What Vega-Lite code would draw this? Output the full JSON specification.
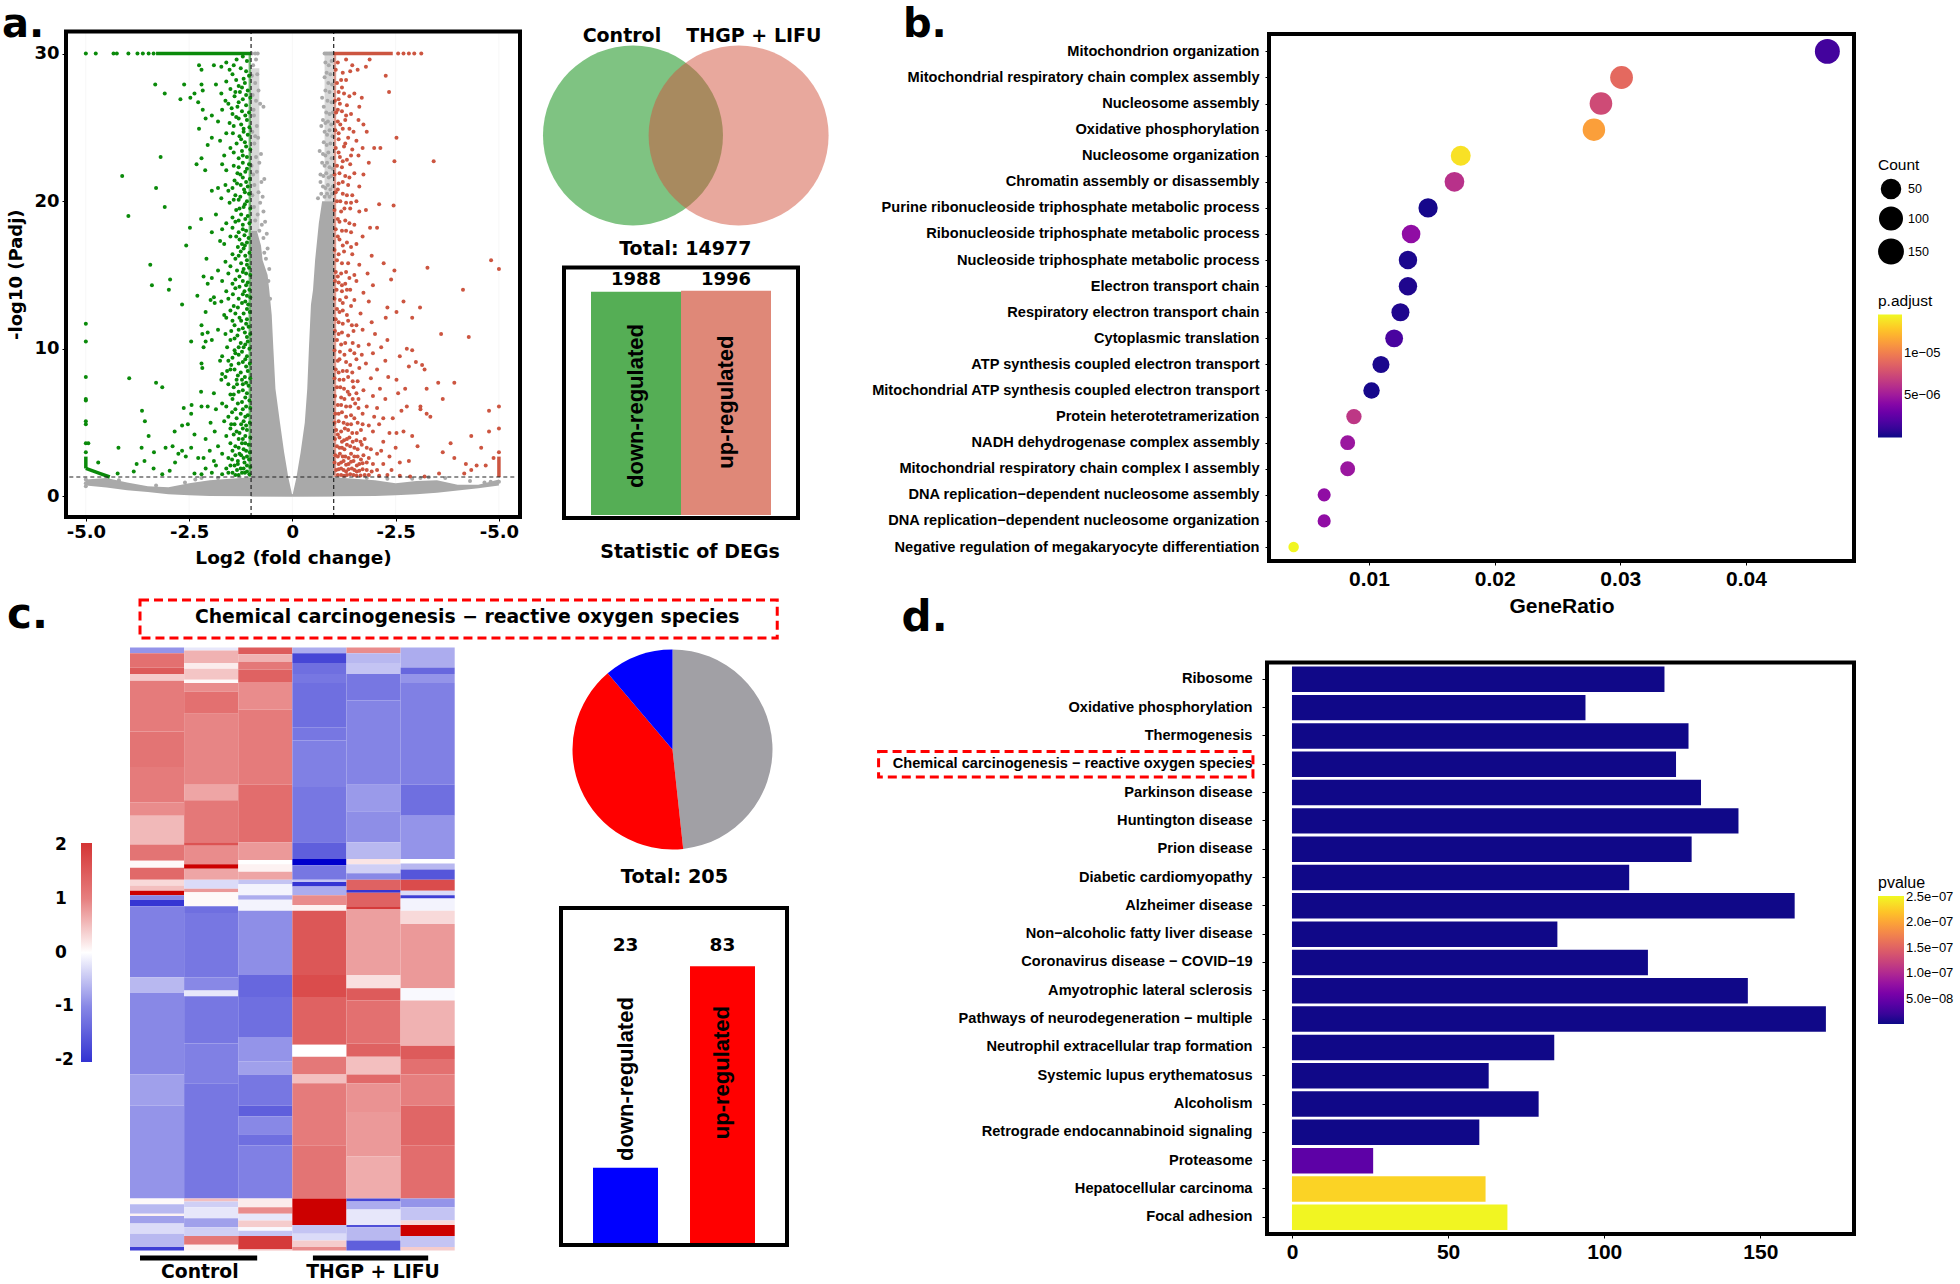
{"$schema":"https://vega.github.io/schema/vega-lite/v6.json","width":1960,"height":1284,"padding":0,"autosize":{"type":"none"},"background":"white","config":{"view":{"stroke":null},"axis":{"grid":false,"domain":false,"tickColor":"black","labelColor":"black","titleColor":"black"}},
"datasets":{"unit":[{"a":0,"b":1}],
"ns_rules":[{"x":-5,"y":-1.39,"y2":31.5},{"x":-2.5,"y":-1.39,"y2":31.5},{"x":0,"y":-1.39,"y2":31.5},{"x":2.5,"y":-1.39,"y2":31.5},{"x":5,"y":-1.39,"y2":31.5}],
"wingL":[{"y":0,"x":-1,"x2":0},{"y":0.3,"x":-1,"x2":-0.02},{"y":1.3,"x":-1,"x2":-0.1},{"y":2,"x":-1,"x2":-0.14},{"y":3,"x":-1,"x2":-0.2},{"y":5,"x":-1,"x2":-0.3},{"y":7.3,"x":-1,"x2":-0.41},{"y":10,"x":-1,"x2":-0.46},{"y":12.3,"x":-1,"x2":-0.5},{"y":14,"x":-1,"x2":-0.56},{"y":15,"x":-1,"x2":-0.6},{"y":16,"x":-1,"x2":-0.72},{"y":17,"x":-1,"x2":-0.76},{"y":18,"x":-1,"x2":-0.86}],
"wingR":[{"y":0,"x":0,"x2":1},{"y":0.3,"x":0.02,"x2":1},{"y":1.3,"x":0.1,"x2":1},{"y":2,"x":0.14,"x2":1},{"y":3,"x":0.2,"x2":1},{"y":5,"x":0.3,"x2":1},{"y":7.3,"x":0.36,"x2":1},{"y":10,"x":0.4,"x2":1},{"y":13,"x":0.45,"x2":1},{"y":14,"x":0.5,"x2":1},{"y":16,"x":0.55,"x2":1},{"y":18.5,"x":0.64,"x2":1},{"y":20,"x":0.72,"x2":1}],
"floor":[{"x":-5,"y":0.75,"y2":1.15},{"x":-4.5,"y":0.6,"y2":1.25},{"x":-4,"y":0.42,"y2":0.95},{"x":-3.5,"y":0.3,"y2":0.7},{"x":-3,"y":0.15,"y2":0.62},{"x":-2.5,"y":0.08,"y2":0.9},{"x":-2,"y":0.04,"y2":1.1},{"x":-1,"y":0.01,"y2":1.3},{"x":0,"y":0,"y2":0.15},{"x":1,"y":0.01,"y2":1.3},{"x":2,"y":0.04,"y2":1.1},{"x":2.5,"y":0.08,"y2":0.9},{"x":3,"y":0.15,"y2":1.05},{"x":3.5,"y":0.25,"y2":1.1},{"x":4,"y":0.4,"y2":0.8},{"x":4.5,"y":0.55,"y2":0.8},{"x":5,"y":0.75,"y2":1.15}],
"ns":[{"x":-0.98,"y":30},{"x":-0.9,"y":30},{"x":-0.84,"y":30},{"x":-0.95,"y":29.2},{"x":-0.85,"y":28.6},{"x":-0.9,"y":28},{"x":-0.82,"y":27.5},{"x":-0.96,"y":27.2},{"x":-0.78,"y":26.6},{"x":-0.88,"y":26.8},{"x":-0.7,"y":26.4},{"x":-0.93,"y":25.8},{"x":-0.86,"y":25.1},{"x":-0.97,"y":24.7},{"x":-0.83,"y":24.3},{"x":-0.92,"y":23.9},{"x":-0.76,"y":23.2},{"x":-0.88,"y":23},{"x":-0.99,"y":22.4},{"x":-0.8,"y":22.6},{"x":-0.86,"y":22},{"x":-0.68,"y":21.5},{"x":-0.75,"y":21.3},{"x":-0.92,"y":21.1},{"x":-0.82,"y":20.6},{"x":-0.72,"y":20.3},{"x":-0.78,"y":19.9},{"x":-0.7,"y":19.3},{"x":-0.84,"y":19.1},{"x":-0.66,"y":18.6},{"x":-0.74,"y":18.4},{"x":-0.62,"y":17.8},{"x":-0.7,"y":17.5},{"x":-0.6,"y":16.8},{"x":-0.64,"y":16.1},{"x":-0.56,"y":15.4},{"x":-0.93,"y":19.6},{"x":-0.97,"y":20.4},{"x":-0.9,"y":18.7},{"x":-0.8,"y":18},{"x":-0.95,"y":21.8},{"x":-0.9,"y":24.4},{"x":-0.94,"y":26.2},{"x":-0.88,"y":29.6},{"x":-0.98,"y":28.5},{"x":-0.92,"y":17.6},{"x":-0.68,"y":16.5},{"x":-0.58,"y":14.6},{"x":-0.54,"y":13.4},{"x":-5,"y":0.9},{"x":-5,"y":0.7},{"x":-5,"y":1.15},{"x":0.78,"y":30},{"x":0.82,"y":30},{"x":0.86,"y":30},{"x":0.9,"y":30},{"x":0.94,"y":30},{"x":0.97,"y":30},{"x":0.8,"y":29.4},{"x":0.88,"y":29.2},{"x":0.95,"y":29.5},{"x":0.83,"y":28.7},{"x":0.92,"y":28.6},{"x":0.78,"y":28.4},{"x":0.87,"y":28},{"x":0.96,"y":27.9},{"x":0.8,"y":27.5},{"x":0.9,"y":27.4},{"x":0.72,"y":27},{"x":0.85,"y":26.8},{"x":0.95,"y":26.7},{"x":0.76,"y":26.4},{"x":0.82,"y":26},{"x":0.9,"y":25.9},{"x":0.98,"y":26},{"x":0.74,"y":25.5},{"x":0.8,"y":25.3},{"x":0.86,"y":25.4},{"x":0.94,"y":25.2},{"x":0.7,"y":25.1},{"x":0.78,"y":24.7},{"x":0.84,"y":24.5},{"x":0.9,"y":24.8},{"x":0.97,"y":24.4},{"x":0.76,"y":24},{"x":0.83,"y":23.8},{"x":0.92,"y":23.9},{"x":0.66,"y":23.4},{"x":0.74,"y":23.2},{"x":0.8,"y":23.1},{"x":0.87,"y":23.3},{"x":0.95,"y":22.9},{"x":0.72,"y":22.6},{"x":0.78,"y":22.4},{"x":0.84,"y":22.6},{"x":0.9,"y":22.3},{"x":0.97,"y":22.2},{"x":0.68,"y":21.8},{"x":0.75,"y":21.7},{"x":0.82,"y":21.9},{"x":0.88,"y":21.6},{"x":0.94,"y":21.7},{"x":0.68,"y":21.3},{"x":0.74,"y":21},{"x":0.8,"y":20.9},{"x":0.86,"y":21.1},{"x":0.92,"y":20.8},{"x":0.98,"y":21},{"x":0.62,"y":20.2},{"x":0.7,"y":20.5},{"x":0.78,"y":20.3},{"x":0.84,"y":20.5},{"x":0.9,"y":20.3},{"x":0.96,"y":20.5},{"x":5,"y":1.0},{"x":4.8,"y":1.0},{"x":4.3,"y":1.05},{"x":3.7,"y":1.25},{"x":3.3,"y":1.3},{"x":-2.2,"y":1.25},{"x":-2.6,"y":0.95},{"x":-3.3,"y":0.75},{"x":-4.2,"y":1.1},{"x":-2.35,"y":1.15},{"x":-1.8,"y":1.25},{"x":2.3,"y":1.2},{"x":2.9,"y":1.2},{"x":3.1,"y":1.25},{"x":1.8,"y":1.25},{"x":4.65,"y":0.95}],
"downLines":[{"x":-3.3,"y":30,"k":"top"},{"x":-1,"y":30,"k":"top"},{"x":-5,"y":1.9,"k":"curve"},{"x":-4.85,"y":1.75,"k":"curve"},{"x":-4.65,"y":1.55,"k":"curve"},{"x":-4.42,"y":1.32,"k":"curve"},{"x":-5,"y":1.9,"k":"side"},{"x":-5,"y":2.7,"k":"side"}],
"upLines":[{"x":1,"y":30,"k":"top"},{"x":2.43,"y":30,"k":"top"},{"x":5,"y":1.32,"k":"side"},{"x":5,"y":2.7,"k":"side"}],
"down":[{"x":-5,"y":30},{"x":-4.76,"y":30},{"x":-4.33,"y":30},{"x":-4.25,"y":30},{"x":-3.97,"y":30},{"x":-3.75,"y":30},{"x":-3.62,"y":30},{"x":-3.48,"y":30},{"x":-3.36,"y":30},{"x":-3.32,"y":27.9},{"x":-3.09,"y":27.3},{"x":-2.62,"y":27.9},{"x":-2.71,"y":26.9},{"x":-2.37,"y":27.3},{"x":-2.47,"y":27},{"x":-2.26,"y":29.2},{"x":-2.2,"y":28.9},{"x":-2.2,"y":27.9},{"x":-2.17,"y":27.5},{"x":-2.28,"y":26.7},{"x":-2.17,"y":26.2},{"x":-2.26,"y":24.9},{"x":-2.1,"y":25.6},{"x":-3.19,"y":23},{"x":-4.12,"y":21.7},{"x":-3.3,"y":20.9},{"x":-3.09,"y":19.6},{"x":-3.97,"y":19},{"x":-2.32,"y":22.5},{"x":-2.2,"y":22.9},{"x":-2.11,"y":22.1},{"x":-2.48,"y":18.2},{"x":-2.21,"y":18.8},{"x":-2.57,"y":17},{"x":-3.44,"y":15.7},{"x":-2.96,"y":14.7},{"x":-3.4,"y":14.3},{"x":-2.99,"y":14},{"x":-2.67,"y":13},{"x":-2.3,"y":13.6},{"x":-5,"y":11.7},{"x":-5,"y":10.5},{"x":-5,"y":8.1},{"x":-5,"y":6.6},{"x":-5,"y":6.5},{"x":-5,"y":5.1},{"x":-5,"y":4.9},{"x":-5,"y":3.6},{"x":-4.94,"y":3.6},{"x":-5,"y":3},{"x":-4.7,"y":2.3},{"x":-3.95,"y":8},{"x":-3.3,"y":7.7},{"x":-3.15,"y":7.4},{"x":-3.64,"y":5.8},{"x":-3.57,"y":5.1},{"x":-3.48,"y":4.1},{"x":-4.21,"y":3.3},{"x":-3.65,"y":3.3},{"x":-3.35,"y":3},{"x":-3.07,"y":3.3},{"x":-2.85,"y":4.4},{"x":-2.9,"y":3.4},{"x":-2.67,"y":4.8},{"x":-2.53,"y":4.9},{"x":-2.63,"y":6},{"x":-2.44,"y":6.2},{"x":-2.21,"y":7.1},{"x":-3.77,"y":2.2},{"x":-3.58,"y":2.4},{"x":-3.84,"y":1.7},{"x":-3.36,"y":1.9},{"x":-3.15,"y":1.5},{"x":-2.84,"y":2.3},{"x":-2.67,"y":3.1},{"x":-2.45,"y":3.3},{"x":-4.23,"y":1.55},{"x":-2.37,"y":4.2},{"x":-2.45,"y":5.6},{"x":-2.76,"y":2.9},{"x":-2.28,"y":2.6},{"x":-2.97,"y":1.75},{"x":-2.58,"y":2.7},{"x":-2.37,"y":1.55},
{"x":-1.1,"y":29.5},{"x":-1.35,"y":29.6},{"x":-1.6,"y":29.4},{"x":-1.25,"y":29.0},{"x":-1.52,"y":28.9},{"x":-1.72,"y":29.1},{"x":-1.9,"y":29.2},{"x":-1.05,"y":28.5},{"x":-1.18,"y":28.3},{"x":-1.45,"y":28.6},{"x":-1.15,"y":28},{"x":-1.3,"y":27.8},{"x":-1.6,"y":28.1},{"x":-1.85,"y":27.9},{"x":-1.08,"y":27.5},{"x":-1.27,"y":27.4},{"x":-1.5,"y":27.6},{"x":-1.72,"y":27.3},{"x":-1.02,"y":27},{"x":-1.2,"y":26.9},{"x":-1.4,"y":27.1},{"x":-1.62,"y":26.8},{"x":-1.12,"y":26.5},{"x":-1.33,"y":26.4},{"x":-1.55,"y":26.6},{"x":-1.05,"y":26},{"x":-1.22,"y":26.1},{"x":-1.45,"y":25.9},{"x":-1.7,"y":26.2},{"x":-1.95,"y":25.8},{"x":-1.1,"y":25.5},{"x":-1.3,"y":25.6},{"x":-1.52,"y":25.3},{"x":-1.8,"y":25.4},{"x":-1.04,"y":25},{"x":-1.18,"y":24.9},{"x":-1.42,"y":25.1},{"x":-1.08,"y":24.5},{"x":-1.28,"y":24.4},{"x":-1.6,"y":24.6},{"x":-1.95,"y":24.3},{"x":-1.15,"y":24},{"x":-1.35,"y":23.9},{"x":-1.75,"y":24.1},{"x":-2.05,"y":23.8},{"x":-1.02,"y":23.5},{"x":-1.22,"y":23.4},{"x":-1.5,"y":23.6},{"x":-1.1,"y":23},{"x":-1.3,"y":22.9},{"x":-1.65,"y":23.1},{"x":-1.05,"y":22.5},{"x":-1.2,"y":22.6},{"x":-1.42,"y":22.4},{"x":-1.7,"y":22.5},{"x":-1.14,"y":22},{"x":-1.33,"y":21.9},{"x":-1.6,"y":22.1},{"x":-1.03,"y":21.5},{"x":-1.2,"y":21.6},{"x":-1.4,"y":21.4},{"x":-1.08,"y":21},{"x":-1.25,"y":21.1},{"x":-1.45,"y":20.9},{"x":-1.62,"y":21.1},{"x":-1.8,"y":20.9},{"x":-1.05,"y":20.5},{"x":-1.15,"y":20.6},{"x":-1.38,"y":20.4},{"x":-1.55,"y":20.7},{"x":-1.95,"y":20.7},{"x":-1.1,"y":20},{"x":-1.3,"y":20.1},{"x":-1.52,"y":19.9},{"x":-1.72,"y":20.2},{"x":-1.02,"y":19.5},{"x":-1.18,"y":19.6},{"x":-1.36,"y":19.4},{"x":-1.08,"y":19},{"x":-1.24,"y":19.1},{"x":-1.45,"y":18.9},{"x":-1.85,"y":19.1},{"x":-1.04,"y":18.5},{"x":-1.2,"y":18.4},{"x":-1.38,"y":18.6},{"x":-1.6,"y":18.5},{"x":-1.12,"y":18},{"x":-1.3,"y":17.9},{"x":-1.7,"y":18.1},{"x":-1.95,"y":17.9},{"x":-1.06,"y":17.5},{"x":-1.28,"y":17.4},{"x":-1.5,"y":17.6},{"x":-1.75,"y":17.3},{"x":-1.15,"y":17},{"x":-1.22,"y":17.1},{"x":-1.32,"y":16.9},{"x":-1.65,"y":17.1},{"x":-1.04,"y":16.5},{"x":-1.25,"y":16.6},{"x":-1.45,"y":16.4},{"x":-1.1,"y":16},{"x":-1.38,"y":16.1},{"x":-1.62,"y":15.9},{"x":-2.08,"y":16.1},{"x":-1.05,"y":15.5},{"x":-1.18,"y":15.4},{"x":-1.5,"y":15.6},{"x":-1.8,"y":15.3},{"x":-1.02,"y":15},{"x":-1.12,"y":15.1},{"x":-1.28,"y":14.9},{"x":-1.55,"y":15.1},{"x":-1.95,"y":14.8},{"x":-2.15,"y":14.9},{"x":-1.08,"y":14.5},{"x":-1.2,"y":14.6},{"x":-1.45,"y":14.4},{"x":-1.7,"y":14.6},{"x":-2.05,"y":14.4},{"x":-1.04,"y":14},{"x":-1.16,"y":13.9},{"x":-1.38,"y":14.1},{"x":-1.6,"y":13.9},{"x":-1.9,"y":13.5},{"x":-1.02,"y":13.5},{"x":-1.1,"y":13.6},{"x":-1.3,"y":13.4},{"x":-1.55,"y":13.4},{"x":-1.98,"y":13.3},{"x":-1.07,"y":13},{"x":-1.22,"y":13.1},{"x":-1.42,"y":12.9},{"x":-1.72,"y":13.2},{"x":-1.88,"y":13.1},{"x":-1.03,"y":12.5},{"x":-1.18,"y":12.4},{"x":-1.5,"y":12.6},{"x":-1.65,"y":12.3},{"x":-2.1,"y":12.5},{"x":-1.1,"y":12},{"x":-1.28,"y":12.1},{"x":-1.45,"y":11.9},{"x":-1.6,"y":12.1},{"x":-2.2,"y":11.6},{"x":-1.06,"y":11.5},{"x":-1.2,"y":11.4},{"x":-1.4,"y":11.6},{"x":-1.8,"y":11.3},{"x":-2.18,"y":11},{"x":-1.02,"y":11},{"x":-1.15,"y":11.1},{"x":-1.33,"y":10.9},{"x":-1.62,"y":11},{"x":-2.05,"y":11.1},{"x":-1.08,"y":10.5},{"x":-1.25,"y":10.4},{"x":-1.5,"y":10.6},{"x":-1.95,"y":10.6},{"x":-2.45,"y":10.5},{"x":-2.1,"y":10.5},{"x":-1.04,"y":10},{"x":-1.18,"y":10.1},{"x":-1.4,"y":9.9},{"x":-1.58,"y":10.1},{"x":-2.15,"y":10.1},{"x":-1.1,"y":9.5},{"x":-1.3,"y":9.6},{"x":-1.45,"y":9.4},{"x":-1.7,"y":9.5},{"x":-1.03,"y":9},{"x":-1.2,"y":9.1},{"x":-1.48,"y":8.9},{"x":-1.75,"y":9.2},{"x":-1.55,"y":9.2},{"x":-2.2,"y":9},{"x":-1.08,"y":8.5},{"x":-1.25,"y":8.4},{"x":-1.4,"y":8.6},{"x":-1.7,"y":8.3},{"x":-1.58,"y":8.5},{"x":-2.18,"y":8.7},{"x":-1.02,"y":8},{"x":-1.15,"y":8.1},{"x":-1.35,"y":7.9},{"x":-1.62,"y":8.1},{"x":-1.72,"y":7.9},{"x":-1.06,"y":7.5},{"x":-1.2,"y":7.6},{"x":-1.42,"y":7.4},{"x":-1.55,"y":7.6},{"x":-1.1,"y":7},{"x":-1.3,"y":7.1},{"x":-1.5,"y":6.9},{"x":-1.9,"y":7},{"x":-2.05,"y":6.1},{"x":-1.04,"y":6.5},{"x":-1.22,"y":6.4},{"x":-1.45,"y":6.6},{"x":-1.7,"y":6.3},{"x":-1.02,"y":6},{"x":-1.12,"y":6.1},{"x":-1.38,"y":5.9},{"x":-1.6,"y":6.1},{"x":-1.85,"y":5.9},{"x":-2.2,"y":6.1},{"x":-1.08,"y":5.5},{"x":-1.25,"y":5.6},{"x":-1.55,"y":5.4},{"x":-1.03,"y":5},{"x":-1.18,"y":5.1},{"x":-1.4,"y":4.9},{"x":-1.65,"y":5.1},{"x":-1.98,"y":5},{"x":-1.1,"y":4.5},{"x":-1.2,"y":4.6},{"x":-1.35,"y":4.4},{"x":-1.5,"y":4.6},{"x":-1.88,"y":4.4},{"x":-1.02,"y":4},{"x":-1.14,"y":4.1},{"x":-1.3,"y":3.9},{"x":-1.6,"y":4.1},{"x":-2.1,"y":3.9},{"x":-1.06,"y":3.5},{"x":-1.22,"y":3.6},{"x":-1.38,"y":3.4},{"x":-1.5,"y":3.6},{"x":-1.8,"y":3.4},{"x":-1.03,"y":3},{"x":-1.12,"y":3.1},{"x":-1.28,"y":2.9},{"x":-1.45,"y":3.1},{"x":-1.7,"y":2.9},{"x":-2,"y":3.1},{"x":-1.05,"y":2.5},{"x":-1.18,"y":2.6},{"x":-1.32,"y":2.4},{"x":-1.55,"y":2.6},{"x":-1.9,"y":2.4},{"x":-2.15,"y":2.6},{"x":-1.02,"y":2},{"x":-1.1,"y":2.1},{"x":-1.25,"y":1.9},{"x":-1.4,"y":2.1},{"x":-1.6,"y":1.9},{"x":-1.85,"y":2.1},{"x":-2.1,"y":1.9},{"x":-1.04,"y":1.5},{"x":-1.15,"y":1.6},{"x":-1.3,"y":1.45},{"x":-1.45,"y":1.6},{"x":-1.7,"y":1.5},{"x":-1.95,"y":1.6},{"x":-2.2,"y":1.5},
{"x":-1.2,"y":29.8},{"x":-1.42,"y":29.2},{"x":-1.12,"y":28.8},{"x":-1.36,"y":28.2},{"x":-1.22,"y":27.7},{"x":-1.38,"y":27.4},{"x":-1.12,"y":27.2},{"x":-1.3,"y":26.7},{"x":-1.47,"y":26.3},{"x":-1.14,"y":25.8},{"x":-1.36,"y":25.7},{"x":-1.24,"y":25.2},{"x":-1.18,"y":24.7},{"x":-1.44,"y":24.6},{"x":-1.24,"y":24.2},{"x":-1.12,"y":23.7},{"x":-1.42,"y":23.3},{"x":-1.2,"y":23.1},{"x":-1.3,"y":22.3},{"x":-1.1,"y":22.2},{"x":-1.26,"y":21.8},{"x":-1.12,"y":21.3},{"x":-1.34,"y":21.2},{"x":-1.17,"y":20.8},{"x":-1.26,"y":20.3},{"x":-1.42,"y":20.1},{"x":-1.15,"y":19.8},{"x":-1.28,"y":19.5},{"x":-1.14,"y":18.8},{"x":-1.3,"y":18.7},{"x":-1.2,"y":18.1},{"x":-1.45,"y":18.2},{"x":-1.16,"y":17.7},{"x":-1.36,"y":17.6},{"x":-1.1,"y":17.2},{"x":-1.18,"y":16.8},{"x":-1.14,"y":16.3},{"x":-1.3,"y":16.3},{"x":-1.24,"y":15.8},{"x":-1.1,"y":15.7},{"x":-1.34,"y":15.3},{"x":-1.2,"y":15.2},{"x":-1.38,"y":14.7},{"x":-1.12,"y":14.3},{"x":-1.28,"y":14.2},{"x":-1.2,"y":13.7},{"x":-1.44,"y":13.7},{"x":-1.14,"y":13.2},{"x":-1.32,"y":12.8},{"x":-1.1,"y":12.7},{"x":-1.38,"y":12.4},{"x":-1.24,"y":11.9},{"x":-1.12,"y":11.7},{"x":-1.3,"y":11.3},{"x":-1.48,"y":11.2},{"x":-1.1,"y":10.8},{"x":-1.4,"y":10.7},{"x":-1.14,"y":10.3},{"x":-1.3,"y":10.1},{"x":-1.22,"y":9.8},{"x":-1.38,"y":9.7},{"x":-1.14,"y":9.3},{"x":-1.3,"y":9},{"x":-1.12,"y":8.8},{"x":-1.5,"y":8.6},{"x":-1.32,"y":8.2},{"x":-1.22,"y":7.9},{"x":-1.12,"y":7.7},{"x":-1.34,"y":7.6},{"x":-1.2,"y":7.2},{"x":-1.42,"y":6.9},{"x":-1.14,"y":6.7},{"x":-1.32,"y":6.3},{"x":-1.2,"y":5.9},{"x":-1.46,"y":5.7},{"x":-1.14,"y":5.4},{"x":-1.35,"y":5.3},{"x":-1.24,"y":4.9},{"x":-1.48,"y":4.9},{"x":-1.12,"y":4.8},{"x":-1.28,"y":4.3},{"x":-1.42,"y":4.2},{"x":-1.2,"y":3.9},{"x":-1.14,"y":3.6},{"x":-1.3,"y":3.3},{"x":-1.18,"y":3.2},{"x":-1.38,"y":2.8},{"x":-1.24,"y":2.8},{"x":-1.1,"y":2.7},{"x":-1.46,"y":2.5},{"x":-1.16,"y":2.3},{"x":-1.32,"y":2.2},{"x":-1.5,"y":2.1},{"x":-1.18,"y":1.9},{"x":-1.34,"y":1.8},{"x":-1.1,"y":1.7},{"x":-1.22,"y":1.6},{"x":-1.38,"y":1.45},{"x":-1.55,"y":1.6}],
"up":[{"x":2.56,"y":30},{"x":2.69,"y":30},{"x":2.82,"y":30},{"x":2.95,"y":30},{"x":3.12,"y":30},{"x":1.87,"y":29.6},{"x":1.78,"y":29.1},{"x":2.26,"y":28.5},{"x":2.34,"y":27.4},{"x":2.52,"y":24.3},{"x":3.42,"y":22.7},{"x":2.47,"y":22.7},{"x":1.98,"y":23.6},{"x":2.13,"y":23.6},{"x":2.45,"y":19.7},{"x":2.1,"y":19.8},{"x":2.05,"y":18.2},{"x":4.81,"y":16},{"x":5,"y":15.4},{"x":3.27,"y":15.5},{"x":2.47,"y":15.3},{"x":2.21,"y":15.8},{"x":4.13,"y":14},{"x":2.39,"y":14.7},{"x":2.69,"y":13.2},{"x":3.09,"y":12.8},{"x":2.52,"y":12.5},{"x":2.9,"y":12.1},{"x":3.6,"y":11},{"x":4.27,"y":10.8},{"x":2.3,"y":12.8},{"x":2.26,"y":12.1},{"x":2.77,"y":10},{"x":2.9,"y":9.9},{"x":2.6,"y":9.5},{"x":2.99,"y":9.1},{"x":3.14,"y":8.9},{"x":3.2,"y":8.6},{"x":3.53,"y":7.7},{"x":3.92,"y":7.7},{"x":3.25,"y":7.3},{"x":3.64,"y":6.6},{"x":4.76,"y":5.8},{"x":5,"y":6.1},{"x":5,"y":4.6},{"x":4.76,"y":4.4},{"x":4.33,"y":4.1},{"x":3.83,"y":3.6},{"x":3.64,"y":3},{"x":4.57,"y":3.3},{"x":3.92,"y":2.6},{"x":4.2,"y":2.2},{"x":4.46,"y":2.1},{"x":4.68,"y":2.1},{"x":4.87,"y":2.6},{"x":5,"y":3},{"x":3.34,"y":5.4},{"x":3.1,"y":6.1},{"x":3.1,"y":5.9},{"x":3.25,"y":5.6},{"x":2.77,"y":6.1},{"x":2.64,"y":5.8},{"x":2.9,"y":4.1},{"x":3.03,"y":3.4},{"x":2.82,"y":2.4},{"x":4.16,"y":1.55},{"x":3.55,"y":1.55},{"x":4.33,"y":1.8},{"x":3.2,"y":1.35},{"x":2.85,"y":1.35},{"x":2.52,"y":4.3},{"x":2.69,"y":4.4},{"x":2.43,"y":5.3},{"x":2.56,"y":7},{"x":2.73,"y":7.3},{"x":2.52,"y":7.9},{"x":2.82,"y":8.8},{"x":2.3,"y":10.6},{"x":2,"y":11},
{"x":1.1,"y":29.4},{"x":1.3,"y":29.6},{"x":1.45,"y":29.2},{"x":1.05,"y":28.9},{"x":1.22,"y":28.7},{"x":1.4,"y":28.8},{"x":1.58,"y":28.9},{"x":1.08,"y":28},{"x":1.3,"y":28.2},{"x":1.12,"y":27.4},{"x":1.25,"y":27.3},{"x":1.5,"y":27.3},{"x":1.68,"y":27},{"x":1.03,"y":26.8},{"x":1.15,"y":26.6},{"x":1.32,"y":26.5},{"x":1.62,"y":26.4},{"x":1.06,"y":26},{"x":1.2,"y":26.1},{"x":1.42,"y":25.9},{"x":1.72,"y":25.2},{"x":1.1,"y":25.4},{"x":1.28,"y":25.5},{"x":1.6,"y":25.5},{"x":1.04,"y":24.8},{"x":1.22,"y":24.9},{"x":1.48,"y":24.7},{"x":1.8,"y":24.7},{"x":1.12,"y":24.2},{"x":1.35,"y":24.3},{"x":1.55,"y":24.1},{"x":1.7,"y":23.6},{"x":1.05,"y":23.6},{"x":1.25,"y":23.7},{"x":1.45,"y":23.5},{"x":1.15,"y":23},{"x":1.32,"y":22.8},{"x":1.6,"y":23.1},{"x":1.85,"y":22.6},{"x":1.08,"y":22.4},{"x":1.2,"y":22.3},{"x":1.4,"y":22.5},{"x":1.02,"y":21.8},{"x":1.28,"y":21.7},{"x":1.5,"y":21.9},{"x":1.72,"y":21.8},{"x":1.12,"y":21.2},{"x":1.35,"y":21.1},{"x":1.62,"y":21},{"x":1.05,"y":20.6},{"x":1.22,"y":20.5},{"x":1.45,"y":20.4},{"x":1.08,"y":20},{"x":1.3,"y":19.9},{"x":1.55,"y":20},{"x":1.78,"y":19.4},{"x":1.02,"y":19.4},{"x":1.18,"y":19.3},{"x":1.4,"y":19.5},{"x":1.62,"y":19.3},{"x":1.1,"y":18.8},{"x":1.28,"y":18.7},{"x":1.5,"y":18.4},{"x":1.88,"y":18.2},{"x":1.05,"y":18.1},{"x":1.2,"y":18},{"x":1.42,"y":17.9},{"x":1.7,"y":17.6},{"x":1.14,"y":17.4},{"x":1.32,"y":17.2},{"x":1.55,"y":17.1},{"x":1.02,"y":16.7},{"x":1.25,"y":16.6},{"x":1.45,"y":16.4},{"x":1.92,"y":16.3},{"x":1.08,"y":16},{"x":1.35,"y":15.8},{"x":1.62,"y":15.7},{"x":1.05,"y":15.2},{"x":1.18,"y":15.1},{"x":1.5,"y":15},{"x":1.82,"y":15.1},{"x":1.03,"y":14.6},{"x":1.12,"y":14.5},{"x":1.28,"y":14.4},{"x":1.55,"y":14.6},{"x":1.95,"y":14.3},{"x":1.07,"y":14},{"x":1.2,"y":13.9},{"x":1.4,"y":14},{"x":1.72,"y":13.8},{"x":1.02,"y":13.4},{"x":1.15,"y":13.3},{"x":1.3,"y":13.5},{"x":1.85,"y":13.2},{"x":1.08,"y":12.7},{"x":1.22,"y":12.6},{"x":1.42,"y":12.9},{"x":1.65,"y":12.4},{"x":1.05,"y":12},{"x":1.12,"y":11.8},{"x":1.35,"y":11.9},{"x":1.55,"y":11.6},{"x":1.92,"y":11.8},{"x":1.03,"y":11.2},{"x":1.2,"y":11.1},{"x":1.48,"y":11.2},{"x":1.7,"y":11.3},{"x":1.08,"y":10.6},{"x":1.28,"y":10.4},{"x":1.6,"y":10.2},{"x":1.85,"y":10.3},{"x":2.15,"y":10.1},{"x":1.02,"y":9.9},{"x":1.15,"y":9.8},{"x":1.4,"y":9.9},{"x":1.68,"y":9.6},{"x":1.95,"y":9.7},{"x":1.1,"y":9.2},{"x":1.3,"y":9.1},{"x":1.55,"y":9.3},{"x":1.78,"y":9},{"x":2.25,"y":9.2},{"x":1.05,"y":8.6},{"x":1.22,"y":8.5},{"x":1.45,"y":8.4},{"x":1.62,"y":8.7},{"x":2.05,"y":8.6},{"x":1.02,"y":8},{"x":1.14,"y":7.9},{"x":1.35,"y":8.1},{"x":1.58,"y":7.8},{"x":1.9,"y":8},{"x":2.32,"y":8.1},{"x":1.08,"y":7.4},{"x":1.25,"y":7.3},{"x":1.48,"y":7.4},{"x":1.72,"y":7.2},{"x":2.12,"y":7.3},{"x":1.03,"y":6.8},{"x":1.18,"y":6.7},{"x":1.38,"y":6.9},{"x":1.6,"y":6.6},{"x":1.95,"y":6.8},{"x":2.25,"y":6.6},{"x":1.1,"y":6.2},{"x":1.3,"y":6.1},{"x":1.52,"y":6.3},{"x":1.8,"y":6.1},{"x":2.05,"y":6},{"x":1.04,"y":5.6},{"x":1.2,"y":5.7},{"x":1.42,"y":5.5},{"x":1.7,"y":5.6},{"x":1.98,"y":5.4},{"x":2.2,"y":5.3},{"x":1.02,"y":5},{"x":1.12,"y":5.1},{"x":1.33,"y":4.9},{"x":1.58,"y":5},{"x":1.85,"y":4.8},{"x":2.1,"y":4.9},{"x":1.06,"y":4.5},{"x":1.18,"y":4.4},{"x":1.27,"y":4.6},{"x":1.45,"y":4.3},{"x":1.66,"y":4.5},{"x":1.95,"y":4.4},{"x":2.35,"y":4.3},{"x":1.03,"y":3.9},{"x":1.14,"y":4},{"x":1.25,"y":3.8},{"x":1.38,"y":4},{"x":1.55,"y":3.8},{"x":1.75,"y":3.9},{"x":2.2,"y":3.7},{"x":1.08,"y":3.4},{"x":1.2,"y":3.3},{"x":1.32,"y":3.5},{"x":1.5,"y":3.3},{"x":1.68,"y":3.5},{"x":1.9,"y":3.2},{"x":2.15,"y":3.1},{"x":2.5,"y":3.3},{"x":1.04,"y":2.8},{"x":1.15,"y":2.9},{"x":1.28,"y":2.7},{"x":1.42,"y":2.9},{"x":1.58,"y":2.7},{"x":1.72,"y":2.8},{"x":2.05,"y":2.9},{"x":2.35,"y":2.7},{"x":1.02,"y":2.3},{"x":1.12,"y":2.2},{"x":1.24,"y":2.4},{"x":1.36,"y":2.2},{"x":1.48,"y":2.4},{"x":1.62,"y":2.2},{"x":1.8,"y":2.3},{"x":2.2,"y":2.2},{"x":2.6,"y":2.3},{"x":1.06,"y":1.8},{"x":1.18,"y":1.9},{"x":1.3,"y":1.7},{"x":1.44,"y":1.9},{"x":1.56,"y":1.7},{"x":1.7,"y":1.85},{"x":1.92,"y":1.7},{"x":2.4,"y":1.8},{"x":1.1,"y":1.45},{"x":1.25,"y":1.4},{"x":1.4,"y":1.5},{"x":1.55,"y":1.4},{"x":1.75,"y":1.45},{"x":2.1,"y":1.4},{"x":2.3,"y":1.45},{"x":2.6,"y":1.4},
{"x":1.18,"y":28.2},{"x":1.2,"y":27.7},{"x":1.38,"y":27.1},{"x":1.12,"y":26.9},{"x":1.1,"y":26.2},{"x":1.3,"y":25.8},{"x":1.16,"y":25.2},{"x":1.38,"y":24.9},{"x":1.12,"y":24.6},{"x":1.28,"y":23.9},{"x":1.12,"y":23.3},{"x":1.42,"y":23.1},{"x":1.22,"y":22.7},{"x":1.14,"y":21.9},{"x":1.38,"y":21.6},{"x":1.22,"y":21.3},{"x":1.1,"y":20.8},{"x":1.32,"y":20.4},{"x":1.16,"y":20},{"x":1.42,"y":19.9},{"x":1.26,"y":19.5},{"x":1.14,"y":18.6},{"x":1.38,"y":18.5},{"x":1.3,"y":18},{"x":1.1,"y":17.6},{"x":1.22,"y":17},{"x":1.42,"y":16.9},{"x":1.12,"y":16.4},{"x":1.2,"y":15.8},{"x":1.3,"y":15.2},{"x":1.1,"y":14.9},{"x":1.38,"y":14.8},{"x":1.2,"y":14.3},{"x":1.32,"y":14},{"x":1.22,"y":13.1},{"x":1.5,"y":13.3},{"x":1.14,"y":12.5},{"x":1.32,"y":12.3},{"x":1.22,"y":11.7},{"x":1.44,"y":11.6},{"x":1.12,"y":11},{"x":1.35,"y":10.9},{"x":1.18,"y":10.3},{"x":1.46,"y":10.4},{"x":1.26,"y":9.6},{"x":1.5,"y":9.7},{"x":1.14,"y":9.3},{"x":1.4,"y":8.9},{"x":1.32,"y":8.5},{"x":1.12,"y":8.4},{"x":1.24,"y":7.9},{"x":1.46,"y":7.8},{"x":1.16,"y":7.4},{"x":1.34,"y":7.1},{"x":1.55,"y":7},{"x":1.26,"y":6.6},{"x":1.46,"y":6.6},{"x":1.18,"y":6.2},{"x":1.4,"y":6.1},{"x":1.6,"y":6},{"x":1.12,"y":5.6},{"x":1.3,"y":5.4},{"x":1.5,"y":5.3},{"x":1.24,"y":5},{"x":1.42,"y":4.9},{"x":1.7,"y":4.9},{"x":1.35,"y":4.5},{"x":1.56,"y":4.3},{"x":1.1,"y":4.2},{"x":1.2,"y":3.7},{"x":1.32,"y":3.9},{"x":1.46,"y":3.7},{"x":1.65,"y":3.7},{"x":1.14,"y":3.3},{"x":1.26,"y":3.2},{"x":1.4,"y":3.4},{"x":1.58,"y":3.2},{"x":1.8,"y":3.3},{"x":1.1,"y":2.7},{"x":1.22,"y":2.7},{"x":1.36,"y":2.6},{"x":1.5,"y":2.7},{"x":1.66,"y":2.5},{"x":1.85,"y":2.6},{"x":1.18,"y":2.3},{"x":1.3,"y":2.15},{"x":1.42,"y":2.35},{"x":1.56,"y":2.1},{"x":1.7,"y":2.25},{"x":1.95,"y":2.2},{"x":1.12,"y":1.85},{"x":1.24,"y":1.8},{"x":1.36,"y":1.85},{"x":1.5,"y":1.8},{"x":1.62,"y":1.75},{"x":1.8,"y":1.8},{"x":2.05,"y":1.8},{"x":1.18,"y":1.45},{"x":1.32,"y":1.45},{"x":1.48,"y":1.45},{"x":1.65,"y":1.42},{"x":1.85,"y":1.45}],
"heat":[{"s":"C1","a":130,"b":143,"v":-0.9},{"s":"C1","a":143,"b":175,"v":1.2},{"s":"C1","a":175,"b":190,"v":1.5},{"s":"C1","a":190,"b":205,"v":0.4},{"s":"C1","a":205,"b":320,"v":1.05},{"s":"C1","a":320,"b":400,"v":1.15},{"s":"C1","a":400,"b":480,"v":1.05},{"s":"C1","a":480,"b":510,"v":0.9},{"s":"C1","a":510,"b":575,"v":0.55},{"s":"C1","a":575,"b":612,"v":1.15},{"s":"C1","a":612,"b":628,"v":0.05},{"s":"C1","a":628,"b":655,"v":1.3},{"s":"C1","a":655,"b":668,"v":0.3},{"s":"C1","a":668,"b":680,"v":0.5},{"s":"C1","a":680,"b":690,"v":2.2},{"s":"C1","a":690,"b":700,"v":-1},{"s":"C1","a":700,"b":715,"v":-2},{"s":"C1","a":715,"b":875,"v":-1.1},{"s":"C1","a":875,"b":910,"v":-0.6},{"s":"C1","a":910,"b":1095,"v":-1},{"s":"C1","a":1095,"b":1165,"v":-0.8},{"s":"C1","a":1165,"b":1375,"v":-0.9},{"s":"C1","a":1375,"b":1388,"v":0.05},{"s":"C1","a":1388,"b":1410,"v":-0.6},{"s":"C1","a":1410,"b":1415,"v":0.1},{"s":"C1","a":1415,"b":1432,"v":-0.8},{"s":"C1","a":1432,"b":1455,"v":-0.3},{"s":"C1","a":1455,"b":1485,"v":-0.6},{"s":"C1","a":1485,"b":1493,"v":-1.9},
{"s":"C2","a":130,"b":137,"v":-0.2},{"s":"C2","a":137,"b":165,"v":0.6},{"s":"C2","a":165,"b":178,"v":0.15},{"s":"C2","a":178,"b":203,"v":0.45},{"s":"C2","a":203,"b":210,"v":0.05},{"s":"C2","a":210,"b":230,"v":0.9},{"s":"C2","a":230,"b":280,"v":1.2},{"s":"C2","a":280,"b":440,"v":0.95},{"s":"C2","a":440,"b":475,"v":0.7},{"s":"C2","a":475,"b":570,"v":1.1},{"s":"C2","a":570,"b":578,"v":1.6},{"s":"C2","a":578,"b":620,"v":0.9},{"s":"C2","a":620,"b":630,"v":2.2},{"s":"C2","a":630,"b":655,"v":0.7},{"s":"C2","a":655,"b":675,"v":-0.3},{"s":"C2","a":675,"b":683,"v":0.8},{"s":"C2","a":683,"b":715,"v":0.05},{"s":"C2","a":715,"b":730,"v":-1.3},{"s":"C2","a":730,"b":875,"v":-1.2},{"s":"C2","a":875,"b":905,"v":-1},{"s":"C2","a":905,"b":918,"v":-0.2},{"s":"C2","a":918,"b":1025,"v":-1.2},{"s":"C2","a":1025,"b":1115,"v":-1.1},{"s":"C2","a":1115,"b":1375,"v":-1.2},{"s":"C2","a":1375,"b":1382,"v":0.5},{"s":"C2","a":1382,"b":1395,"v":-0.4},{"s":"C2","a":1395,"b":1420,"v":-0.2},{"s":"C2","a":1420,"b":1440,"v":-0.8},{"s":"C2","a":1440,"b":1460,"v":-0.4},{"s":"C2","a":1460,"b":1480,"v":1.1},{"s":"C2","a":1480,"b":1493,"v":0.1},
{"s":"C3","a":130,"b":145,"v":1.5},{"s":"C3","a":145,"b":162,"v":0.6},{"s":"C3","a":162,"b":180,"v":1.1},{"s":"C3","a":180,"b":208,"v":1.4},{"s":"C3","a":208,"b":270,"v":0.9},{"s":"C3","a":270,"b":440,"v":1.05},{"s":"C3","a":440,"b":570,"v":1.25},{"s":"C3","a":570,"b":610,"v":0.8},{"s":"C3","a":610,"b":620,"v":0},{"s":"C3","a":620,"b":637,"v":0.1},{"s":"C3","a":637,"b":655,"v":0.7},{"s":"C3","a":655,"b":665,"v":-0.5},{"s":"C3","a":665,"b":690,"v":-0.1},{"s":"C3","a":690,"b":700,"v":-0.7},{"s":"C3","a":700,"b":725,"v":-0.1},{"s":"C3","a":725,"b":870,"v":-0.95},{"s":"C3","a":870,"b":920,"v":-1.4},{"s":"C3","a":920,"b":1010,"v":-1.3},{"s":"C3","a":1010,"b":1065,"v":-0.9},{"s":"C3","a":1065,"b":1095,"v":-0.8},{"s":"C3","a":1095,"b":1165,"v":-1.2},{"s":"C3","a":1165,"b":1190,"v":-1.5},{"s":"C3","a":1190,"b":1230,"v":-1},{"s":"C3","a":1230,"b":1255,"v":-1.3},{"s":"C3","a":1255,"b":1375,"v":-1.1},{"s":"C3","a":1375,"b":1395,"v":0.15},{"s":"C3","a":1395,"b":1410,"v":0.9},{"s":"C3","a":1410,"b":1425,"v":-0.2},{"s":"C3","a":1425,"b":1440,"v":0.4},{"s":"C3","a":1440,"b":1448,"v":-0.05},{"s":"C3","a":1448,"b":1460,"v":-0.5},{"s":"C3","a":1460,"b":1490,"v":1.95},{"s":"C3","a":1490,"b":1493,"v":0.5},
{"s":"C4","a":130,"b":143,"v":-0.7},{"s":"C4","a":143,"b":165,"v":-1.8},{"s":"C4","a":165,"b":190,"v":-1.3},{"s":"C4","a":190,"b":210,"v":-1.2},{"s":"C4","a":210,"b":310,"v":-1.3},{"s":"C4","a":310,"b":340,"v":-1.2},{"s":"C4","a":340,"b":445,"v":-1.1},{"s":"C4","a":445,"b":570,"v":-1.2},{"s":"C4","a":570,"b":608,"v":-1.5},{"s":"C4","a":608,"b":622,"v":-2.2},{"s":"C4","a":622,"b":655,"v":-1.2},{"s":"C4","a":655,"b":660,"v":-0.5},{"s":"C4","a":660,"b":670,"v":-2},{"s":"C4","a":670,"b":690,"v":-0.7},{"s":"C4","a":690,"b":712,"v":0.9},{"s":"C4","a":712,"b":725,"v":0.1},{"s":"C4","a":725,"b":870,"v":1.55},{"s":"C4","a":870,"b":920,"v":1.7},{"s":"C4","a":920,"b":1028,"v":1.4},{"s":"C4","a":1028,"b":1055,"v":0},{"s":"C4","a":1055,"b":1095,"v":1.1},{"s":"C4","a":1095,"b":1115,"v":0.5},{"s":"C4","a":1115,"b":1255,"v":1.05},{"s":"C4","a":1255,"b":1375,"v":1.15},{"s":"C4","a":1375,"b":1435,"v":2.3},{"s":"C4","a":1435,"b":1455,"v":-0.5},{"s":"C4","a":1455,"b":1470,"v":-0.3},{"s":"C4","a":1470,"b":1485,"v":0.4},{"s":"C4","a":1485,"b":1493,"v":0.9},
{"s":"C5","a":130,"b":143,"v":0.9},{"s":"C5","a":143,"b":165,"v":-0.6},{"s":"C5","a":165,"b":190,"v":-0.5},{"s":"C5","a":190,"b":250,"v":-1.2},{"s":"C5","a":250,"b":440,"v":-1.05},{"s":"C5","a":440,"b":500,"v":-0.85},{"s":"C5","a":500,"b":570,"v":-0.95},{"s":"C5","a":570,"b":608,"v":-0.6},{"s":"C5","a":608,"b":620,"v":0.2},{"s":"C5","a":620,"b":640,"v":-0.4},{"s":"C5","a":640,"b":655,"v":-1},{"s":"C5","a":655,"b":678,"v":1.4},{"s":"C5","a":678,"b":684,"v":-2},{"s":"C5","a":684,"b":715,"v":1.4},{"s":"C5","a":715,"b":722,"v":1.95},{"s":"C5","a":722,"b":870,"v":0.75},{"s":"C5","a":870,"b":900,"v":0.25},{"s":"C5","a":900,"b":928,"v":1.5},{"s":"C5","a":928,"b":1025,"v":1.2},{"s":"C5","a":1025,"b":1055,"v":1.4},{"s":"C5","a":1055,"b":1095,"v":0.5},{"s":"C5","a":1095,"b":1115,"v":1.3},{"s":"C5","a":1115,"b":1180,"v":0.85},{"s":"C5","a":1180,"b":1280,"v":0.8},{"s":"C5","a":1280,"b":1375,"v":0.65},{"s":"C5","a":1375,"b":1382,"v":-1.8},{"s":"C5","a":1382,"b":1400,"v":-0.7},{"s":"C5","a":1400,"b":1435,"v":-0.2},{"s":"C5","a":1435,"b":1440,"v":-1.7},{"s":"C5","a":1440,"b":1470,"v":-0.6},{"s":"C5","a":1470,"b":1493,"v":-1.5},
{"s":"C6","a":130,"b":175,"v":-0.7},{"s":"C6","a":175,"b":190,"v":-1.4},{"s":"C6","a":190,"b":210,"v":-0.9},{"s":"C6","a":210,"b":440,"v":-1.1},{"s":"C6","a":440,"b":510,"v":-1.3},{"s":"C6","a":510,"b":608,"v":-0.9},{"s":"C6","a":608,"b":618,"v":0},{"s":"C6","a":618,"b":632,"v":-0.6},{"s":"C6","a":632,"b":655,"v":-1.6},{"s":"C6","a":655,"b":680,"v":1.7},{"s":"C6","a":680,"b":690,"v":-0.3},{"s":"C6","a":690,"b":697,"v":-1.9},{"s":"C6","a":697,"b":725,"v":-0.1},{"s":"C6","a":725,"b":755,"v":0.3},{"s":"C6","a":755,"b":900,"v":0.8},{"s":"C6","a":900,"b":928,"v":-0.05},{"s":"C6","a":928,"b":1030,"v":0.6},{"s":"C6","a":1030,"b":1060,"v":1.5},{"s":"C6","a":1060,"b":1095,"v":1.2},{"s":"C6","a":1095,"b":1165,"v":1},{"s":"C6","a":1165,"b":1255,"v":1.35},{"s":"C6","a":1255,"b":1375,"v":1.25},{"s":"C6","a":1375,"b":1395,"v":-0.9},{"s":"C6","a":1395,"b":1425,"v":-0.5},{"s":"C6","a":1425,"b":1435,"v":0.3},{"s":"C6","a":1435,"b":1460,"v":2.3},{"s":"C6","a":1460,"b":1485,"v":-0.5},{"s":"C6","a":1485,"b":1493,"v":0.4}],
"dots":[{"t":"Mitochondrion organization","r":0.04648,"n":168,"p":1.5e-6},{"t":"Mitochondrial respiratory chain complex assembly","r":0.0301,"n":108,"p":9e-6},{"t":"Nucleosome assembly","r":0.02846,"n":103,"p":7.5e-6},{"t":"Oxidative phosphorylation","r":0.0279,"n":101,"p":1.14e-5},{"t":"Nucleosome organization","r":0.0173,"n":62,"p":1.38e-5},{"t":"Chromatin assembly or disassembly","r":0.0168,"n":60,"p":6.2e-6},{"t":"Purine ribonucleoside triphosphate metabolic process","r":0.0147,"n":53,"p":2e-7},{"t":"Ribonucleoside triphosphate metabolic process","r":0.01335,"n":48,"p":4.4e-6},{"t":"Nucleoside triphosphate metabolic process","r":0.0131,"n":47,"p":3e-7},{"t":"Electron transport chain","r":0.0131,"n":47,"p":4e-7},{"t":"Respiratory electron transport chain","r":0.0125,"n":45,"p":4e-7},{"t":"Cytoplasmic translation","r":0.012,"n":44,"p":1.7e-6},{"t":"ATP synthesis coupled electron transport","r":0.01095,"n":40,"p":3e-7},{"t":"Mitochondrial ATP synthesis coupled electron transport","r":0.0102,"n":37,"p":2e-7},{"t":"Protein heterotetramerization","r":0.0088,"n":32,"p":6.5e-6},{"t":"NADH dehydrogenase complex assembly","r":0.0083,"n":30,"p":4.8e-6},{"t":"Mitochondrial respiratory chain complex I assembly","r":0.0083,"n":30,"p":4.8e-6},{"t":"DNA replication−dependent nucleosome assembly","r":0.00643,"n":23,"p":4.4e-6},{"t":"DNA replication−dependent nucleosome organization","r":0.00643,"n":23,"p":4.4e-6},{"t":"Negative regulation of megakaryocyte differentiation","r":0.004,"n":14,"p":1.45e-5}],
"kegg":[{"t":"Ribosome","n":119.3,"p":1e-9},{"t":"Oxidative phosphorylation ","n":94,"p":1e-9},{"t":"Thermogenesis","n":127,"p":1e-9},{"t":"Chemical carcinogenesis − reactive oxygen species","n":123,"p":1e-9},{"t":"Parkinson disease","n":131,"p":1e-9},{"t":"Huntington disease","n":143,"p":1e-9},{"t":"Prion disease","n":128,"p":1e-9},{"t":"Diabetic cardiomyopathy","n":108,"p":1e-9},{"t":"Alzheimer disease","n":161,"p":1e-9},{"t":"Non−alcoholic fatty liver disease","n":85,"p":1e-9},{"t":"Coronavirus disease − COVID−19","n":114,"p":1e-9},{"t":"Amyotrophic lateral sclerosis","n":146,"p":1e-9},{"t":"Pathways of neurodegeneration − multiple","n":171,"p":1e-9},{"t":"Neutrophil extracellular trap formation","n":84,"p":1e-9},{"t":"Systemic lupus erythematosus","n":63,"p":1e-9},{"t":"Alcoholism","n":79,"p":1e-9},{"t":"Retrograde endocannabinoid signaling","n":60,"p":1e-9},{"t":"Proteasome","n":26,"p":4.2e-8},{"t":"Hepatocellular carcinoma","n":62,"p":2.3e-7},{"t":"Focal adhesion","n":69,"p":2.5e-7}]},
"resolve":{"scale":{"x":"independent","y":"independent","color":"independent","size":"independent"},"axis":{"x":"independent","y":"independent"},"legend":{"color":"independent","size":"independent"}},
"layer":[
{"encoding":{"x":{"field":"x","type":"quantitative","scale":{"domain":[-5.48,5.51],"range":[66,520]},"axis":{"orient":"bottom","offset":-767,"values":[-5,-2.5,0,2.5,5],"labelExpr":"datum.value==0?'0':'-'+format(abs(datum.value),'.1f')","labelFont":"DejaVu Sans","labelFontWeight":"bold","labelFontSize":18,"labelPadding":2,"tickSize":4,"title":"Log2 (fold change)","titleFont":"DejaVu Sans","titleFontWeight":"bold","titleFontSize":18.5,"titlePadding":7}},"y":{"field":"y","type":"quantitative","scale":{"domain":[-1.39,31.5],"range":[517,31.4]},"axis":{"orient":"left","offset":-66,"values":[0,10,20,30],"labelFont":"DejaVu Sans","labelFontWeight":"bold","labelFontSize":18,"labelPadding":3,"tickSize":4,"title":"-log10 (Padj)","titleFont":"DejaVu Sans","titleFontWeight":"bold","titleFontSize":18,"titlePadding":8}}},
"layer":[
{"data":{"name":"ns_rules"},"mark":{"type":"rule","color":"#f7f7f7","strokeWidth":1},"encoding":{"y2":{"field":"y2"}}},
{"data":{"name":"floor"},"mark":{"type":"area","orient":"vertical","color":"#a9a9a9"},"encoding":{"y2":{"field":"y2"}}},
{"data":{"name":"wingL"},"mark":{"type":"area","orient":"horizontal","color":"#a9a9a9"},"encoding":{"x2":{"field":"x2"}}},
{"data":{"name":"wingR"},"mark":{"type":"area","orient":"horizontal","color":"#a9a9a9"},"encoding":{"x2":{"field":"x2"}}},
{"data":{"values":[{"x":-1,"x2":-0.8,"y":18,"y2":29},{"x":0.78,"x2":1,"y":20,"y2":30}]},"mark":{"type":"rect","color":"#a9a9a9","opacity":0.45},"encoding":{"x2":{"field":"x2"},"y2":{"field":"y2"}}},
{"data":{"name":"ns"},"mark":{"type":"circle","color":"#a9a9a9","size":16,"opacity":1}},
{"data":{"values":[{"x":-1.06,"x2":-1,"y":1.32,"y2":30}]},"mark":{"type":"rect","color":"#0a8a0a","opacity":0.6},"encoding":{"x2":{"field":"x2"},"y2":{"field":"y2"}}},
{"data":{"values":[{"x":1,"x2":1.06,"y":1.32,"y2":30}]},"mark":{"type":"rect","color":"#cc5540","opacity":0.6},"encoding":{"x2":{"field":"x2"},"y2":{"field":"y2"}}},
{"data":{"name":"down"},"mark":{"type":"circle","color":"#0a8a0a","size":16,"opacity":1}},
{"data":{"name":"up"},"mark":{"type":"circle","color":"#cc5540","size":16,"opacity":1}},
{"data":{"name":"downLines"},"mark":{"type":"line","color":"#0a8a0a","strokeWidth":3.5},"encoding":{"detail":{"field":"k"}}},
{"data":{"name":"upLines"},"mark":{"type":"line","color":"#cc5540","strokeWidth":3.5},"encoding":{"detail":{"field":"k"}}},
{"data":{"values":[{"x":-1,"y":-1.39,"y2":31.5},{"x":1,"y":-1.39,"y2":31.5}]},"mark":{"type":"rule","color":"#222","strokeWidth":1.2,"strokeDash":[4,3]},"encoding":{"y2":{"field":"y2"}}},
{"data":{"values":[{"x":-5.4,"x2":5.4,"y":1.32}]},"mark":{"type":"rule","color":"#222","strokeWidth":1.2,"strokeDash":[4,3]},"encoding":{"x2":{"field":"x2"}}}
]},
{"data":{"name":"unit"},"mark":{"type":"rect","fill":"transparent","stroke":"black","strokeWidth":4},"encoding":{"x":{"field":"a","type":"quantitative","scale":{"domain":[0,1],"range":[66,520]},"axis":null},"x2":{"field":"b"},"y":{"field":"a","type":"quantitative","scale":{"domain":[0,1],"range":[517,31.4]},"axis":null},"y2":{"field":"b"}}},
{"encoding":{"x":{"field":"x","type":"quantitative","scale":{"domain":[-2.95,2.92],"range":[530,840]},"axis":null},"y":{"field":"y","type":"quantitative","scale":{"domain":[-2.4,2.19],"range":[262,20]},"axis":null}},
"layer":[
{"data":{"values":[{"set":"Control","x":-1,"y":0},{"set":"THGP + LIFU","x":1,"y":0}]},"mark":{"type":"circle","size":32400,"opacity":0.5},"encoding":{"color":{"field":"set","type":"nominal","sort":null,"scale":{"domain":["Control","THGP + LIFU"],"range":["#008705","#d1513b"]},"legend":null}}},
{"data":{"values":[{"t":"Control","x":-1.21,"y":1.89},{"t":"THGP + LIFU","x":1.29,"y":1.89},{"t":"Total: 14977","x":-0.01,"y":-2.15},{"t":"Statistic of DEGs","x":0.08,"y":-7.9}]},"mark":{"type":"text","font":"DejaVu Sans","fontWeight":"bold","fontSize":19,"align":"center","baseline":"middle","color":"black"},"encoding":{"text":{"field":"t"}}}
]},
{"encoding":{"x":{"field":"g","type":"nominal","scale":{"type":"band","domain":["down","up"],"range":[564,798],"paddingInner":0,"paddingOuter":0.3},"axis":null},"y":{"field":"v","type":"quantitative","stack":null,"scale":{"domain":[-27,2203],"range":[518,267.5]},"axis":null}},
"layer":[
{"data":{"values":[{"g":"down","v":1988},{"g":"up","v":1996}]},"mark":{"type":"bar"},"encoding":{"color":{"field":"g","type":"nominal","sort":null,"scale":{"domain":["down","up"],"range":["#55ae55","#df8878"]},"legend":null}}},
{"data":{"values":[{"g":"down","v":2091,"t":"1988"},{"g":"up","v":2091,"t":"1996"}]},"mark":{"type":"text","font":"DejaVu Sans","fontWeight":"bold","fontSize":18,"align":"center","baseline":"middle","color":"black"},"encoding":{"text":{"field":"t"}}},
{"data":{"values":[{"g":"down","v":970,"t":"down-regulated"},{"g":"up","v":1005,"t":"up-regulated"}]},"mark":{"type":"text","font":"Liberation Sans","fontWeight":"bold","fontSize":22,"angle":270,"align":"center","baseline":"middle","color":"black"},"encoding":{"text":{"field":"t"}}}
]},
{"data":{"name":"unit"},"mark":{"type":"rect","fill":"transparent","stroke":"black","strokeWidth":4},"encoding":{"x":{"field":"a","type":"quantitative","scale":{"domain":[0,1],"range":[564,798]},"axis":null},"x2":{"field":"b"},"y":{"field":"a","type":"quantitative","scale":{"domain":[0,1],"range":[518,267.5]},"axis":null},"y2":{"field":"b"}}},
{"data":{"name":"dots"},"mark":{"type":"circle","opacity":1},"encoding":{"x":{"field":"r","type":"quantitative","scale":{"domain":[0.00204,0.0486],"range":[1269,1854]},"axis":{"orient":"bottom","offset":-723,"values":[0.01,0.02,0.03,0.04],"format":".2f","labelFont":"Liberation Sans","labelFontWeight":"bold","labelFontSize":21,"labelPadding":3,"tickSize":4,"title":"GeneRatio","titleFont":"Liberation Sans","titleFontWeight":"bold","titleFontSize":21,"titlePadding":6}},"y":{"field":"t","type":"nominal","sort":null,"scale":{"type":"point","padding":0,"range":[51.4,547]},"axis":{"orient":"left","offset":-1269,"title":null,"labelFont":"Liberation Sans","labelFontWeight":"bold","labelFontSize":14.6,"labelLimit":500,"labelPadding":6,"tickSize":4}},"size":{"field":"n","type":"quantitative","scale":{"domain":[14,50,100,170],"range":[110,361,506,625]},"legend":{"orient":"none","legendX":1878,"legendY":158,"title":"Count","titleFont":"Liberation Sans","titleFontSize":15.5,"titleFontWeight":"normal","labelFont":"Liberation Sans","labelFontSize":12.5,"values":[50,100,150],"symbolFillColor":"black","symbolStrokeColor":"black","symbolOpacity":1}},"color":{"field":"p","type":"quantitative","scale":{"scheme":"plasma","domain":[0,1.46e-5]},"legend":{"orient":"none","legendX":1878,"legendY":294,"title":"p.adjust","titleFont":"Liberation Sans","titleFontSize":15.5,"titleFontWeight":"normal","labelFont":"Liberation Sans","labelFontSize":13,"gradientLength":123,"gradientThickness":24,"values":[5e-6,1e-5],"labelExpr":"datum.value>8e-6?'1e−05':'5e−06'"}}}},
{"data":{"name":"unit"},"mark":{"type":"rect","fill":"transparent","stroke":"black","strokeWidth":4},"encoding":{"x":{"field":"a","type":"quantitative","scale":{"domain":[0,1],"range":[1269,1854]},"axis":null},"x2":{"field":"b"},"y":{"field":"a","type":"quantitative","scale":{"domain":[0,1],"range":[561,34]},"axis":null},"y2":{"field":"b"}}},
{"data":{"name":"heat"},"mark":{"type":"rect"},"encoding":{"x":{"field":"s","type":"nominal","scale":{"type":"band","domain":["C1","C2","C3","C4","C5","C6"],"range":[130,454.7],"paddingInner":0,"paddingOuter":0},"axis":null},"y":{"field":"a","type":"quantitative","scale":{"domain":[130,1493],"range":[647.5,1250.6]},"axis":null},"y2":{"field":"b"},"color":{"condition":[{"test":"datum.v>2.05","value":"#cc0000"},{"test":"datum.v<-2.05","value":"#0000cc"}],"field":"v","type":"quantitative","scale":{"domain":[-2.03,-1,0,1,2.03],"range":["#3333d2","#8888e6","#ffffff","#e67f7f","#d43434"],"interpolate":"rgb","clamp":true},"legend":{"orient":"none","legendX":81,"legendY":843,"title":null,"gradientLength":219,"gradientThickness":11,"values":[-2,-1,0,1,2],"labelExpr":"''+datum.value","labelOffset":-37,"labelAlign":"right","labelFont":"DejaVu Sans","labelFontWeight":"bold","labelFontSize":17,"labelColor":"black"}}}},
{"encoding":{"x":{"field":"x","type":"quantitative","scale":{"domain":[0,6],"range":[130,454.7]},"axis":null},"y":{"field":"y","type":"quantitative","scale":{"domain":[130,1493],"range":[647.5,1250.6]},"axis":null}},
"layer":[
{"data":{"values":[{"x":0.185,"x2":2.35,"y":1510},{"x":3.38,"x2":5.51,"y":1510}]},"mark":{"type":"rule","color":"black","strokeWidth":5},"encoding":{"x2":{"field":"x2"}}},
{"data":{"values":[{"t":"Control","x":1.29,"y":1541},{"t":"THGP + LIFU","x":4.49,"y":1541},{"t":"Chemical carcinogenesis − reactive oxygen species","x":6.23,"y":61}]},"mark":{"type":"text","font":"DejaVu Sans","fontWeight":"bold","fontSize":18.8,"align":"center","baseline":"middle","color":"black"},"encoding":{"text":{"field":"t"}}},
{"data":{"values":[{"x":0.185,"x2":11.96,"y":22.6,"y2":108.5}]},"mark":{"type":"rect","fill":"transparent","stroke":"#ff0000","strokeWidth":3,"strokeDash":[9,5]},"encoding":{"x2":{"field":"x2"},"y2":{"field":"y2"}}}
]},
{"encoding":{"x":{"field":"c","type":"quantitative","scale":{"domain":[0,1],"range":[572,773]},"axis":null},"y":{"field":"d","type":"quantitative","scale":{"domain":[0,1],"range":[850,649]},"axis":null}},
"layer":[
{"data":{"values":[{"g":"none","from":0,"to":99,"c":0.5,"d":0.5},{"g":"up","from":99,"to":182,"c":0.5,"d":0.5},{"g":"down","from":182,"to":205,"c":0.5,"d":0.5}]},"mark":{"type":"arc","outerRadius":100},"encoding":{"theta":{"field":"from","type":"quantitative","scale":{"domain":[0,205],"range":[0,6.2832]}},"theta2":{"field":"to"},"color":{"field":"g","type":"nominal","sort":null,"scale":{"domain":["none","up","down"],"range":["#a1a0a5","#ff0000","#0000ff"]},"legend":null}}},
{"data":{"values":[{"t":"Total: 205","c":0.51,"d":-0.134}]},"mark":{"type":"text","font":"DejaVu Sans","fontWeight":"bold","fontSize":19.3,"align":"center","baseline":"middle","color":"black"},"encoding":{"text":{"field":"t"}}}
]},
{"encoding":{"x":{"field":"g","type":"nominal","scale":{"type":"band","domain":["down","up"],"range":[561,787],"paddingInner":0.33,"paddingOuter":0.33},"axis":null},"y":{"field":"v","type":"quantitative","stack":null,"scale":{"domain":[0,100.3],"range":[1245,908]},"axis":null}},
"layer":[
{"data":{"values":[{"g":"down","v":23},{"g":"up","v":83}]},"mark":{"type":"bar"},"encoding":{"color":{"field":"g","type":"nominal","sort":null,"scale":{"domain":["down","up"],"range":["#0000ff","#ff0000"]},"legend":null}}},
{"data":{"values":[{"g":"down","v":89.3,"t":"23"},{"g":"up","v":89.3,"t":"83"}]},"mark":{"type":"text","font":"DejaVu Sans","fontWeight":"bold","fontSize":18.5,"align":"center","baseline":"middle","color":"black"},"encoding":{"text":{"field":"t"}}},
{"data":{"values":[{"g":"down","v":49.4,"t":"down-regulated"},{"g":"up","v":51.3,"t":"up-regulated"}]},"mark":{"type":"text","font":"Liberation Sans","fontWeight":"bold","fontSize":22,"angle":270,"align":"center","baseline":"middle","color":"black"},"encoding":{"text":{"field":"t"}}}
]},
{"data":{"name":"unit"},"mark":{"type":"rect","fill":"transparent","stroke":"black","strokeWidth":4},"encoding":{"x":{"field":"a","type":"quantitative","scale":{"domain":[0,1],"range":[561,787]},"axis":null},"x2":{"field":"b"},"y":{"field":"a","type":"quantitative","scale":{"domain":[0,1],"range":[1245,908]},"axis":null},"y2":{"field":"b"}}},
{"encoding":{"y":{"field":"t","type":"nominal","sort":null,"scale":{"type":"band","range":[662.6,1234],"paddingInner":0.1,"paddingOuter":0.14},"axis":{"orient":"left","offset":-1267,"title":null,"labelFont":"Liberation Sans","labelFontWeight":"bold","labelFontSize":14.6,"labelLimit":500,"labelPadding":10,"tickSize":5}},"x":{"field":"n","type":"quantitative","stack":null,"scale":{"domain":[-8,180],"range":[1267,1854]},"axis":{"orient":"bottom","offset":-50,"values":[0,50,100,150],"labelFont":"Liberation Sans","labelFontWeight":"bold","labelFontSize":21,"labelPadding":3,"tickSize":4,"title":null}}},
"layer":[
{"data":{"name":"kegg"},"mark":{"type":"bar"},"encoding":{"color":{"field":"p","type":"quantitative","scale":{"scheme":"plasma","domain":[0,2.52e-7]},"legend":{"orient":"none","legendX":1878,"legendY":875,"title":"pvalue","titleFont":"Liberation Sans","titleFontSize":16,"titleFontWeight":"normal","labelFont":"Liberation Sans","labelFontSize":13,"gradientLength":128,"gradientThickness":26,"values":[5e-8,1e-7,1.5e-7,2e-7,2.5e-7],"labelExpr":"replace(format(datum.value,'.1e'),'e-','e−0')"}}}},
{"data":{"values":[{"t":"Chemical carcinogenesis − reactive oxygen species","n":-132.4,"n2":-12.5}]},"mark":{"type":"rect","fill":"transparent","stroke":"#ff0000","strokeWidth":3,"strokeDash":[9,5]},"encoding":{"x2":{"field":"n2"}}}
]},
{"data":{"name":"unit"},"mark":{"type":"rect","fill":"transparent","stroke":"black","strokeWidth":4},"encoding":{"x":{"field":"a","type":"quantitative","scale":{"domain":[0,1],"range":[1267,1854]},"axis":null},"x2":{"field":"b"},"y":{"field":"a","type":"quantitative","scale":{"domain":[0,1],"range":[1234,662.6]},"axis":null},"y2":{"field":"b"}}},
{"data":{"values":[{"t":"a.","x":0.001,"y":0.0288},{"t":"b.","x":0.4607,"y":0.0288}]},"mark":{"type":"text","font":"DejaVu Sans","fontWeight":"bold","fontSize":40,"align":"left","baseline":"alphabetic","color":"black"},"encoding":{"text":{"field":"t"},"x":{"field":"x","type":"quantitative","scale":{"domain":[0,1],"range":[0,1960]},"axis":null},"y":{"field":"y","type":"quantitative","scale":{"domain":[0,1],"range":[0,1284]},"axis":null}}},
{"data":{"values":[{"t":"c.","x":0.0036,"y":0.4888},{"t":"d.","x":0.46,"y":0.4914}]},"mark":{"type":"text","font":"DejaVu Sans","fontWeight":"bold","fontSize":42,"align":"left","baseline":"alphabetic","color":"black"},"encoding":{"text":{"field":"t"},"x":{"field":"x","type":"quantitative","scale":{"domain":[0,1],"range":[0,1960]},"axis":null},"y":{"field":"y","type":"quantitative","scale":{"domain":[0,1],"range":[0,1284]},"axis":null}}}
]}
